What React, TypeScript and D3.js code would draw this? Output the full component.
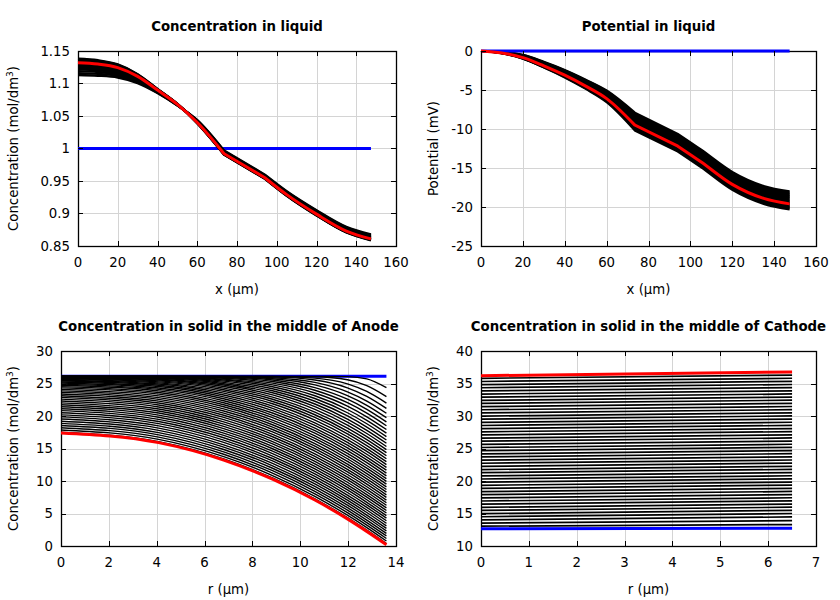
import React from "react";
import * as d3 from "d3";

const FONT = "'DejaVu Sans', sans-serif";
const FS = 13.3;

// ---------------- Liquid phase (x in µm) ----------------
const liquidX = [0, 10, 20, 30, 40, 50, 60, 73.5, 94, 105, 120, 135, 147.4];
const liquidKinks = [73.5, 94];
const liquidXEnds = [0, 147.4];

const liquidConcSnapshots = [
  [1.113, 1.112, 1.1093, 1.1006, 1.0853, 1.0661, 1.0438, 0.9968, 0.9598, 0.9343, 0.9051, 0.8795, 0.8677],
  [1.116, 1.1148, 1.1117, 1.1022, 1.086, 1.0664, 1.0432, 0.996, 0.959, 0.9335, 0.9041, 0.8784, 0.8666],
  [1.119, 1.1177, 1.1141, 1.1039, 1.0868, 1.0667, 1.0426, 0.9953, 0.9583, 0.9326, 0.9032, 0.8774, 0.8656],
  [1.122, 1.1205, 1.1165, 1.1055, 1.0875, 1.067, 1.042, 0.9945, 0.9575, 0.9318, 0.9022, 0.8764, 0.8645],
  [1.124, 1.1224, 1.1181, 1.1066, 1.088, 1.0672, 1.0416, 0.994, 0.957, 0.9312, 0.9016, 0.8757, 0.8638],
  [1.126, 1.1243, 1.1197, 1.1077, 1.0885, 1.0674, 1.0412, 0.9935, 0.9565, 0.9307, 0.9009, 0.875, 0.8631],
  [1.128, 1.1262, 1.1213, 1.1088, 1.089, 1.0676, 1.0408, 0.993, 0.956, 0.9301, 0.9003, 0.8744, 0.8624],
  [1.13, 1.1281, 1.1229, 1.1099, 1.0895, 1.0678, 1.0404, 0.9925, 0.9555, 0.9296, 0.8996, 0.8737, 0.8617],
  [1.134, 1.1319, 1.1261, 1.1121, 1.0905, 1.0682, 1.0396, 0.9915, 0.9545, 0.9284, 0.8984, 0.8723, 0.8603],
  [1.135, 1.1329, 1.1269, 1.1127, 1.0908, 1.0683, 1.0394, 0.9913, 0.9543, 0.9282, 0.898, 0.872, 0.86],
  [1.136, 1.1338, 1.1277, 1.1132, 1.091, 1.0684, 1.0392, 0.991, 0.954, 0.9279, 0.8977, 0.8716, 0.8596],
  [1.137, 1.1348, 1.1285, 1.1138, 1.0913, 1.0685, 1.039, 0.9908, 0.9538, 0.9276, 0.8974, 0.8713, 0.8593],
  [1.138, 1.1357, 1.1293, 1.1143, 1.0915, 1.0686, 1.0388, 0.9905, 0.9535, 0.9273, 0.8971, 0.871, 0.8589],
];
const liquidConcFinal = [1.132, 1.13, 1.1245, 1.111, 1.09, 1.068, 1.04, 0.992, 0.955, 0.929, 0.899, 0.873, 0.861];
const liquidConcInitial = [1.0, 1.0];

const potentialSnapshots = [
  [0, -0.12, -0.5, -1.39, -2.43, -3.67, -5.06, -7.9, -10.63, -12.63, -15.5, -17.3, -18.0],
  [0, -0.13, -0.53, -1.44, -2.49, -3.75, -5.16, -8.05, -10.78, -12.78, -15.65, -17.45, -18.15],
  [0, -0.15, -0.56, -1.48, -2.55, -3.82, -5.26, -8.2, -10.93, -12.93, -15.8, -17.6, -18.3],
  [0, -0.16, -0.6, -1.53, -2.62, -3.9, -5.35, -8.35, -11.07, -13.07, -15.95, -17.75, -18.45],
  [0, -0.17, -0.63, -1.58, -2.68, -3.98, -5.45, -8.5, -11.22, -13.22, -16.1, -17.9, -18.6],
  [0, -0.18, -0.66, -1.63, -2.74, -4.06, -5.55, -8.65, -11.37, -13.37, -16.25, -18.05, -18.75],
  [0, -0.19, -0.7, -1.68, -2.81, -4.14, -5.65, -8.8, -11.51, -13.51, -16.4, -18.2, -18.9],
  [0, -0.21, -0.73, -1.72, -2.87, -4.21, -5.74, -8.95, -11.66, -13.66, -16.55, -18.35, -19.05],
  [0, -0.22, -0.76, -1.77, -2.93, -4.29, -5.84, -9.1, -11.81, -13.81, -16.7, -18.5, -19.2],
  [0, -0.23, -0.8, -1.82, -3.0, -4.37, -5.94, -9.25, -11.96, -13.96, -16.85, -18.65, -19.35],
  [0, -0.24, -0.83, -1.87, -3.06, -4.45, -6.04, -9.4, -12.1, -14.1, -17.0, -18.8, -19.5],
  [0, -0.26, -0.87, -1.93, -3.14, -4.55, -6.17, -9.6, -12.3, -14.3, -17.2, -19.0, -19.7],
  [0, -0.27, -0.91, -1.98, -3.21, -4.63, -6.26, -9.75, -12.45, -14.45, -17.35, -19.15, -19.85],
  [0, -0.28, -0.94, -2.03, -3.27, -4.71, -6.36, -9.9, -12.59, -14.59, -17.5, -19.3, -20.0],
  [0, -0.29, -0.97, -2.08, -3.33, -4.79, -6.46, -10.05, -12.74, -14.74, -17.65, -19.45, -20.15],
  [0, -0.31, -1.0, -2.12, -3.39, -4.86, -6.56, -10.2, -12.89, -14.89, -17.8, -19.6, -20.3],
];
const potentialFinal = [0, -0.25, -0.85, -1.9, -3.1, -4.5, -6.1, -9.5, -12.2, -14.2, -17.1, -18.9, -19.6];
const potentialInitial = [0, 0];

// ---------------- Anode particle (r in µm) ----------------
const anodeR = [0, 4.08, 6.8, 8.84, 10.61, 11.97, 12.78, 13.6];
const anodeREnds = [0, 13.6];
const anodeSnapshots = [
  [26.1, 26.1, 26.1, 26.1, 26.1, 26.06, 25.71, 24.35],
  [26.1, 26.1, 26.1, 26.1, 26.04, 25.58, 24.66, 22.98],
  [26.1, 26.1, 26.1, 26.09, 25.83, 24.95, 23.78, 21.99],
  [26.1, 26.1, 26.1, 26.02, 25.53, 24.33, 23.01, 21.16],
  [26.1, 26.1, 26.09, 25.88, 25.17, 23.72, 22.3, 20.42],
  [26.1, 26.1, 26.04, 25.74, 24.78, 23.14, 21.65, 19.74],
  [26.1, 26.09, 25.99, 25.54, 24.37, 22.58, 21.03, 19.1],
  [26.1, 26.08, 25.91, 25.31, 23.96, 22.04, 20.44, 18.5],
  [26.1, 26.06, 25.8, 25.06, 23.54, 21.52, 19.88, 17.92],
  [26.09, 26.02, 25.68, 24.79, 23.12, 21.0, 19.34, 17.37],
  [26.08, 25.98, 25.53, 24.5, 22.69, 20.5, 18.81, 16.83],
  [26.06, 25.92, 25.36, 24.2, 22.27, 20.01, 18.3, 16.31],
  [26.03, 25.85, 25.18, 23.89, 21.85, 19.53, 17.8, 15.81],
  [26.0, 25.76, 24.97, 23.57, 21.43, 19.06, 17.31, 15.31],
  [25.95, 25.65, 24.76, 23.24, 21.02, 18.6, 16.83, 14.83],
  [25.89, 25.54, 24.53, 22.91, 20.6, 18.14, 16.36, 14.35],
  [25.82, 25.4, 24.29, 22.57, 20.19, 17.69, 15.9, 13.88],
  [25.73, 25.25, 24.04, 22.23, 19.78, 17.25, 15.44, 13.42],
  [25.63, 25.09, 23.78, 21.88, 19.37, 16.81, 14.99, 12.97],
  [25.51, 24.92, 23.51, 21.53, 18.96, 16.37, 14.55, 12.52],
  [25.38, 24.73, 23.23, 21.18, 18.56, 15.94, 14.11, 12.08],
  [25.23, 24.53, 22.94, 20.82, 18.15, 15.51, 13.67, 11.65],
  [25.08, 24.31, 22.65, 20.46, 17.75, 15.09, 13.24, 11.21],
  [24.9, 24.09, 22.35, 20.11, 17.35, 14.67, 12.82, 10.78],
  [24.72, 23.86, 22.04, 19.74, 16.95, 14.25, 12.39, 10.36],
  [24.52, 23.61, 21.73, 19.38, 16.56, 13.84, 11.97, 9.94],
  [24.32, 23.36, 21.42, 19.02, 16.16, 13.42, 11.56, 9.52],
  [24.1, 23.1, 21.1, 18.65, 15.76, 13.02, 11.14, 9.1],
  [23.87, 22.83, 20.77, 18.29, 15.37, 12.61, 10.73, 8.69],
  [23.63, 22.56, 20.45, 17.92, 14.98, 12.2, 10.32, 8.28],
  [23.38, 22.28, 20.12, 17.55, 14.59, 11.8, 9.92, 7.87],
  [23.12, 21.99, 19.78, 17.18, 14.19, 11.4, 9.51, 7.47],
  [22.86, 21.69, 19.44, 16.81, 13.8, 11.0, 9.11, 7.06],
  [22.59, 21.39, 19.1, 16.44, 13.41, 10.6, 8.7, 6.66],
  [22.31, 21.08, 18.76, 16.07, 13.03, 10.2, 8.31, 6.26],
  [22.02, 20.77, 18.41, 15.7, 12.64, 9.81, 7.91, 5.86],
  [21.73, 20.46, 18.06, 15.33, 12.25, 9.41, 7.51, 5.46],
  [21.43, 20.13, 17.71, 14.96, 11.86, 9.02, 7.12, 5.07],
  [21.12, 19.81, 17.36, 14.59, 11.48, 8.63, 6.72, 4.67],
  [20.82, 19.48, 17.01, 14.21, 11.09, 8.23, 6.33, 4.28],
  [20.5, 19.15, 16.65, 13.84, 10.71, 7.84, 5.94, 3.89],
  [20.18, 18.82, 16.29, 13.46, 10.32, 7.45, 5.54, 3.49],
  [19.86, 18.48, 15.93, 13.09, 9.94, 7.06, 5.15, 3.1],
  [19.53, 18.14, 15.57, 12.72, 9.55, 6.68, 4.76, 2.71],
  [19.2, 17.79, 15.21, 12.34, 9.17, 6.29, 4.38, 2.32],
  [18.87, 17.45, 14.85, 11.96, 8.79, 5.9, 3.99, 1.94],
  [18.54, 17.1, 14.49, 11.59, 8.4, 5.52, 3.6, 1.55],
  [18.2, 16.75, 14.12, 11.21, 8.02, 5.13, 3.21, 1.16],
  [17.85, 16.4, 13.75, 10.84, 7.64, 4.74, 2.83, 0.77],
  [17.51, 16.04, 13.39, 10.46, 7.26, 4.36, 2.44, 0.39],
];
const anodeFinal = [17.4, 15.9, 13.22, 10.28, 7.07, 4.17, 2.25, 0.2];
const anodeInitial = [26.1, 26.1];

// ---------------- Cathode particle (r in µm) ----------------
const cathodeREnds = [0, 6.5];
const cathodeCenter = [
  13.05, 13.53, 14.02, 14.5, 14.99, 15.47, 15.95, 16.44, 16.92, 17.41, 17.89, 18.37,
  18.86, 19.34, 19.83, 20.31, 20.79, 21.28, 21.76, 22.25, 22.73, 23.21, 23.7, 24.18,
  24.67, 25.15, 25.63, 26.12, 26.6, 27.09, 27.57, 28.05, 28.54, 29.02, 29.51, 29.99,
  30.47, 30.96, 31.44, 31.93, 32.41, 32.89, 33.38, 33.86, 34.35, 34.83, 35.31, 35.8,
];
const cathodeSurface = [
  13.3, 13.91, 14.47, 15.0, 15.49, 15.97, 16.45, 16.94, 17.42, 17.91, 18.39, 18.87,
  19.36, 19.84, 20.33, 20.81, 21.29, 21.78, 22.26, 22.75, 23.23, 23.71, 24.2, 24.68,
  25.17, 25.65, 26.13, 26.62, 27.1, 27.59, 28.07, 28.55, 29.04, 29.52, 30.01, 30.49,
  30.97, 31.46, 31.94, 32.43, 32.91, 33.39, 33.88, 34.36, 34.85, 35.33, 35.81, 36.3,
];
const cathodeFinal = [36.2, 36.77];
const cathodeInitial = [12.65, 12.75];

// ---------------- Axes ----------------
const liquidXTicks = [0, 20, 40, 60, 80, 100, 120, 140, 160];
const anodeXTicks = [0, 2, 4, 6, 8, 10, 12, 14];
const cathodeXTicks = [0, 1, 2, 3, 4, 5, 6, 7];
const concYTicks = [0.85, 0.9, 0.95, 1, 1.05, 1.1, 1.15];
const concYTickLabels = ["0.85", "0.9", "0.95", "1", "1.05", "1.1", "1.15"];
const potYTicks = [-25, -20, -15, -10, -5, 0];
const anodeYTicks = [0, 5, 10, 15, 20, 25, 30];
const cathodeYTicks = [10, 15, 20, 25, 30, 35, 40];

type Rect = { x0: number; x1: number; y0: number; y1: number };
type Sc = d3.ScaleLinear<number, number>;

const crisp = (v: number) => Math.round(v) + 0.5;

function smoothPath(xs: Sc, ys: Sc, xv: number[], yv: number[]) {
  const pts = xv.map((x, i) => [x, yv[i]] as [number, number]);
  return d3
    .line<[number, number]>()
    .x((d) => xs(d[0]))
    .y((d) => ys(d[1]))
    .curve(d3.curveMonotoneX)(pts) as string;
}

// liquid profiles have kinks at the electrode/separator boundaries
function liquidPath(xs: Sc, ys: Sc, vals: number[]) {
  const pts = liquidX.map((x, i) => [x, vals[i]] as [number, number]);
  const [a, b] = liquidKinks;
  const segs = [
    pts.filter((p) => p[0] <= a),
    pts.filter((p) => p[0] >= a && p[0] <= b),
    pts.filter((p) => p[0] >= b),
  ];
  const gen = d3
    .line<[number, number]>()
    .x((d) => xs(d[0]))
    .y((d) => ys(d[1]))
    .curve(d3.curveMonotoneX);
  return segs
    .map((s, i) => {
      const p = gen(s) as string;
      return i === 0 ? p : "L" + p.slice(1);
    })
    .join("");
}

type PanelProps = {
  rect: Rect;
  xDomain: [number, number];
  yDomain: [number, number];
  xTicks: number[];
  yTicks: number[];
  yTickLabels?: string[];
  title: string;
  xTitle: string;
  yTitleX: number;
  yTitle: React.ReactNode;
  render: (xs: Sc, ys: Sc) => React.ReactNode;
};

function Panel(p: PanelProps) {
  const { rect } = p;
  const xs = d3.scaleLinear().domain(p.xDomain).range([rect.x0, rect.x1]);
  const ys = d3.scaleLinear().domain(p.yDomain).range([rect.y1, rect.y0]);
  const cx = (rect.x0 + rect.x1) / 2;
  const cy = (rect.y0 + rect.y1) / 2;
  const tl = 5;
  return (
    <g>
      {p.xTicks.slice(1, -1).map((t) => (
        <line key={"gx" + t} x1={crisp(xs(t))} x2={crisp(xs(t))} y1={rect.y0} y2={rect.y1} stroke="#d4d4d4" strokeWidth={1} />
      ))}
      {p.yTicks.slice(1, -1).map((t) => (
        <line key={"gy" + t} x1={rect.x0} x2={rect.x1} y1={crisp(ys(t))} y2={crisp(ys(t))} stroke="#d4d4d4" strokeWidth={1} />
      ))}
      <rect x={rect.x0 + 0.5} y={rect.y0 + 0.5} width={rect.x1 - rect.x0} height={rect.y1 - rect.y0} fill="none" stroke="#000" strokeWidth={1.3} />
      {p.render(xs, ys)}
      {p.xTicks.map((t) => (
        <g key={"tx" + t}>
          <line x1={crisp(xs(t))} x2={crisp(xs(t))} y1={rect.y1} y2={rect.y1 - tl} stroke="#000" />
          <line x1={crisp(xs(t))} x2={crisp(xs(t))} y1={rect.y0} y2={rect.y0 + tl} stroke="#000" />
          <text x={xs(t)} y={rect.y1 + 21} textAnchor="middle" fontSize={FS} fontFamily={FONT}>{String(t)}</text>
        </g>
      ))}
      {p.yTicks.map((t, i) => (
        <g key={"ty" + t}>
          <line x1={rect.x0} x2={rect.x0 + tl} y1={crisp(ys(t))} y2={crisp(ys(t))} stroke="#000" />
          <line x1={rect.x1} x2={rect.x1 - tl} y1={crisp(ys(t))} y2={crisp(ys(t))} stroke="#000" />
          <text x={rect.x0 - 8} y={ys(t) + 4.6} textAnchor="end" fontSize={FS} fontFamily={FONT}>
            {p.yTickLabels ? p.yTickLabels[i] : String(t)}
          </text>
        </g>
      ))}
      <text x={cx} y={rect.y0 - 20} textAnchor="middle" fontSize={FS} fontWeight="bold" fontFamily={FONT}>{p.title}</text>
      <text x={cx} y={rect.y1 + 48} textAnchor="middle" fontSize={FS} fontFamily={FONT}>{p.xTitle}</text>
      <text transform={`translate(${p.yTitleX},${cy}) rotate(-90)`} textAnchor="middle" fontSize={FS} fontFamily={FONT}>{p.yTitle}</text>
    </g>
  );
}

const concLabel = (
  <>
    Concentration (mol/dm<tspan dy={-5} fontSize={9}>3</tspan><tspan dy={5}>)</tspan>
  </>
);

export default function App() {
  const P1: Rect = { x0: 78, x1: 396, y0: 51, y1: 246 };
  const P2: Rect = { x0: 481, x1: 816, y0: 51, y1: 246 };
  const P3: Rect = { x0: 61, x1: 396, y0: 351, y1: 546 };
  const P4: Rect = { x0: 481, x1: 816, y0: 351, y1: 546 };
  return (
    <svg width={840} height={600} style={{ position: "absolute", left: 0, top: 0, background: "#fff" }}>
      <rect width={840} height={600} fill="#fff" />
      <Panel
        rect={P1}
        xDomain={[0, 160]}
        yDomain={[0.85, 1.15]}
        xTicks={liquidXTicks}
        yTicks={concYTicks}
        yTickLabels={concYTickLabels}
        title="Concentration in liquid"
        xTitle="x (µm)"
        yTitleX={18}
        yTitle={concLabel}
        render={(xs, ys) => (
          <g fill="none">
            <path d={smoothPath(xs, ys, liquidXEnds, liquidConcInitial)} stroke="#0000ff" strokeWidth={3} />
            {liquidConcSnapshots.map((c, i) => (
              <path key={i} d={liquidPath(xs, ys, c)} stroke="#000" strokeWidth={2.4} />
            ))}
            <path d={liquidPath(xs, ys, liquidConcFinal)} stroke="#ff0000" strokeWidth={3} />
          </g>
        )}
      />
      <Panel
        rect={P2}
        xDomain={[0, 160]}
        yDomain={[-25, 0]}
        xTicks={liquidXTicks}
        yTicks={potYTicks}
        title="Potential in liquid"
        xTitle="x (µm)"
        yTitleX={438}
        yTitle="Potential (mV)"
        render={(xs, ys) => (
          <g fill="none">
            {potentialSnapshots.map((c, i) => (
              <path key={i} d={liquidPath(xs, ys, c)} stroke="#000" strokeWidth={2.2} />
            ))}
            <path d={smoothPath(xs, ys, liquidXEnds, potentialInitial)} stroke="#0000ff" strokeWidth={3} />
            <path d={liquidPath(xs, ys, potentialFinal)} stroke="#ff0000" strokeWidth={3} />
          </g>
        )}
      />
      <Panel
        rect={P3}
        xDomain={[0, 14]}
        yDomain={[0, 30]}
        xTicks={anodeXTicks}
        yTicks={anodeYTicks}
        title="Concentration in solid in the middle of Anode"
        xTitle="r (µm)"
        yTitleX={18}
        yTitle={concLabel}
        render={(xs, ys) => (
          <g fill="none">
            <path d={smoothPath(xs, ys, anodeREnds, anodeInitial)} stroke="#0000ff" strokeWidth={3} />
            {anodeSnapshots.map((c, i) => (
              <path key={i} d={smoothPath(xs, ys, anodeR, c)} stroke="#000" strokeWidth={1.4} />
            ))}
            <path d={smoothPath(xs, ys, anodeR, anodeFinal)} stroke="#ff0000" strokeWidth={3} />
          </g>
        )}
      />
      <Panel
        rect={P4}
        xDomain={[0, 7]}
        yDomain={[10, 40]}
        xTicks={cathodeXTicks}
        yTicks={cathodeYTicks}
        title="Concentration in solid in the middle of Cathode"
        xTitle="r (µm)"
        yTitleX={438}
        yTitle={concLabel}
        render={(xs, ys) => (
          <g fill="none">
            {cathodeCenter.map((c, i) => (
              <path key={i} d={smoothPath(xs, ys, cathodeREnds, [c, cathodeSurface[i]])} stroke="#000" strokeWidth={1.7} />
            ))}
            <path d={smoothPath(xs, ys, cathodeREnds, cathodeInitial)} stroke="#0000ff" strokeWidth={3} />
            <path d={smoothPath(xs, ys, cathodeREnds, cathodeFinal)} stroke="#ff0000" strokeWidth={3} />
          </g>
        )}
      />
    </svg>
  );
}
